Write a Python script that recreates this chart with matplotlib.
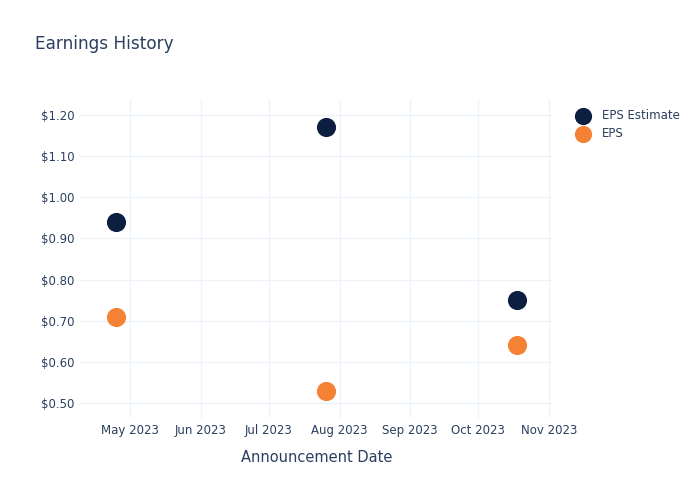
import numpy as np
import pandas as pd
import matplotlib.pyplot as plt
import matplotlib.dates as mdates
from matplotlib.ticker import FuncFormatter

# Data
dates = pd.to_datetime(["2023-04-25", "2023-07-26", "2023-10-18"])
eps_estimate = [0.94, 1.17, 0.75]
eps_actual = [0.71, 0.53, 0.64]

text_color = '#2a3f5f'
grid_color = '#eef2f9'
navy = '#0c1f40'
orange = '#f58134'

fig = plt.figure(figsize=(7, 5), dpi=100)
ax = fig.add_axes([80 / 700, 1 - 418 / 500, (553 - 80) / 700, (418 - 100) / 500])

ax.scatter(dates, eps_estimate, s=190, color=navy, label='EPS Estimate', zorder=3, linewidths=0)
ax.scatter(dates, eps_actual, s=190, color=orange, label='EPS', zorder=3, linewidths=0)

ax.set_xlim(pd.Timestamp("2023-04-09"), pd.Timestamp("2023-11-02 18:00"))
ax.set_ylim(0.4635, 1.2365)

ax.xaxis.set_major_locator(mdates.MonthLocator(bymonth=range(5, 12)))
ax.xaxis.set_major_formatter(mdates.DateFormatter('%b %Y'))
ax.set_yticks(np.arange(0.5, 1.21, 0.1))
ax.yaxis.set_major_formatter(FuncFormatter(lambda v, p: f'${v:.2f}'))

ax.grid(True, color=grid_color, linewidth=1)
ax.set_axisbelow(True)
for s in ax.spines.values():
    s.set_visible(False)
ax.tick_params(length=0, colors=text_color, labelsize=8.5)
ax.tick_params(axis='x', pad=4)
ax.tick_params(axis='y', pad=4)

ax.set_xlabel('Announcement Date', color=text_color, fontsize=10.5, labelpad=10)
fig.text(35 / 700, 1 - 44 / 500, 'Earnings History', color=text_color, fontsize=12.2, va='center')

leg = ax.legend(loc='upper left', bbox_to_anchor=(571 / 700, 1 - 103 / 500), bbox_transform=fig.transFigure,
                frameon=False, fontsize=8.5, labelcolor=text_color, handletextpad=1.1,
                labelspacing=0.45, borderpad=0, handlelength=1.0, markerscale=0.9)

plt.savefig('out.png', dpi=100)
